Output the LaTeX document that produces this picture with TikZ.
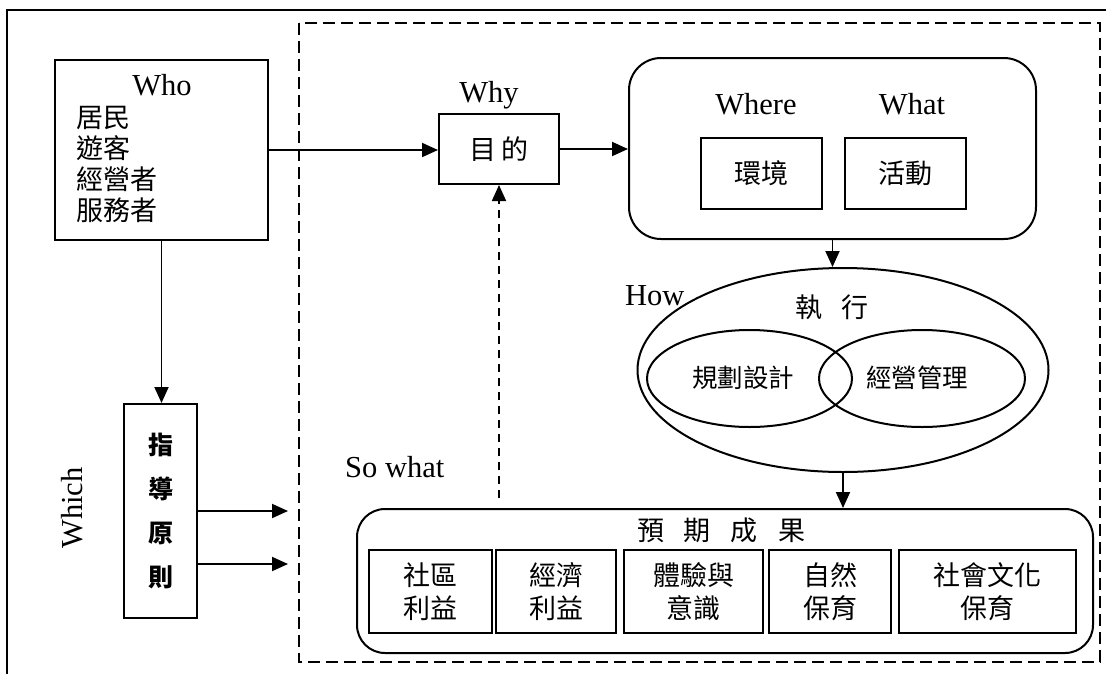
\documentclass[tikz,border=0pt]{standalone}
\usepackage{fontspec}
\setmainfont{Liberation Serif}
\newfontfamily\cjk{Noto Sans CJK TC}
\usetikzlibrary{arrows.meta,shapes.geometric}
\begin{document}
\begin{tikzpicture}[x=1pt,y=-1pt,
  box/.style={draw, line width=2pt, inner sep=0pt},
  en/.style={font=\fontsize{30.5}{36}\selectfont, inner sep=0pt},
  zh/.style={font=\cjk\fontsize{27}{33}\selectfont},
  zhs/.style={font=\cjk\fontsize{25.5}{30}\selectfont},
  arr/.style={line width=1.9pt, -{Triangle[length=16pt,width=14pt]}},
  darr/.style={line width=1.8pt, dash pattern=on 8pt off 6pt, -{Triangle[length=16pt,width=14pt]}},
  frame/.style={line width=2.8pt},
  dframe/.style={line width=2.8pt, dash pattern=on 12pt off 6pt}]
\useasboundingbox (0,0) rectangle (1106,673);
\clip (0,0) rectangle (1106,673);
% frames
\draw[frame] (7,700) -- (7,10) -- (1120,10);
\draw[dframe] (299,23) rectangle (1100,662);
% who
\node[box, minimum width=213pt, minimum height=180pt] (who) at (161.5,150) {};
\node[en, anchor=base] (whot) at (162,95) {Who};
\node[zh, anchor=north west, align=left, inner sep=0pt, font=\cjk\fontsize{27}{31}\selectfont] (whol) at (76,106) {居民\\遊客\\經營者\\服務者};
% why
\node[en, anchor=base] (whyt) at (489,102) {Why};
\node[box, zh, minimum width=120pt, minimum height=70pt] (why) at (499,149) {目\hspace{6pt}的};
% where / what container
\node[box, rounded corners=32pt, minimum width=407pt, minimum height=181pt] (ctr) at (832.5,148.5) {};
\node[en, anchor=base] (wheret) at (756,114) {Where};
\node[en, anchor=base] (whatt) at (912,114) {What};
\node[box, zh, minimum width=121pt, minimum height=71pt] (env) at (761.5,173.5) {環境};
\node[box, zh, minimum width=121pt, minimum height=71pt] (act) at (905.5,173.5) {活動};
% how
\node[ellipse, draw, line width=2pt, inner sep=0pt, minimum width=411pt, minimum height=204pt] (exec) at (843,370) {};
\node[en, anchor=base west] (howt) at (625,305) {How};
\node[zh] (exect) at (832,307) {執\hspace{20pt}行};
\node[ellipse, draw, line width=2pt, inner sep=0pt, minimum width=205pt, minimum height=97pt] (plan) at (749.5,378.5) {};
\node[ellipse, draw, line width=2pt, inner sep=0pt, minimum width=206pt, minimum height=97pt] (mgmt) at (922,378.5) {};
\node[zhs] (plant) at (743,378) {規劃設計};
\node[zhs] (mgmtt) at (917,378) {經營管理};
% results
\node[box, rounded corners=28pt, minimum width=736pt, minimum height=144pt] (res) at (725,581) {};
\node[zh] (rest) at (721,530) {預\hspace{20pt}期\hspace{20pt}成\hspace{20pt}果};
\node[box, zh, align=center, minimum width=123pt, minimum height=83pt] (r1) at (430.5,591.5) {社區\\利益};
\node[box, zh, align=center, minimum width=120pt, minimum height=83pt] (r2) at (556,591.5) {經濟\\利益};
\node[box, zh, align=center, minimum width=139pt, minimum height=83pt] (r3) at (693.5,591.5) {體驗與\\意識};
\node[box, zh, align=center, minimum width=122pt, minimum height=83pt] (r4) at (830,591.5) {自然\\保育};
\node[box, zh, align=center, minimum width=177pt, minimum height=83pt] (r5) at (987.5,591.5) {社會文化\\保育};
% guide
\node[box, minimum width=73pt, minimum height=214pt, align=center, font=\cjk\bfseries\fontsize{25}{44}\selectfont] (guide) at (160.5,511) {指\\導\\原\\則};
\node[en, rotate=90] (which) at (72,508) {Which};
\node[en, anchor=base west] (sowhat) at (345,477) {So what};
% connectors
\coordinate (g1) at (288,511);
\coordinate (g2) at (288,564);
\coordinate (sw) at (499,498);
\draw[arr] (who.east) -- (who.east -| why.west);
\draw[arr] (why.east) -- (why.east -| ctr.west);
\draw[arr] (ctr.south) -- (ctr.south |- exec.north);
\draw[arr] (exec.south) -- (exec.south |- res.north);
\draw[arr] (who.south) -- (who.south |- guide.north);
\draw[arr] (guide.east |- g1) -- (g1);
\draw[arr] (guide.east |- g2) -- (g2);
\draw[darr] (sw) -- (why.south);
\end{tikzpicture}
\end{document}
